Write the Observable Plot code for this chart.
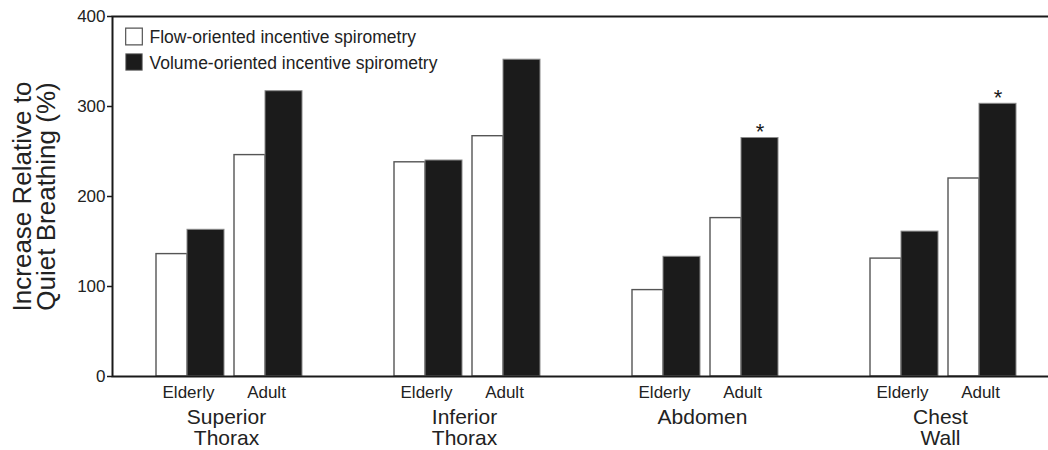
<!DOCTYPE html>
<html>
<head>
<meta charset="utf-8">
<script src="https://cdn.jsdelivr.net/npm/d3@7"></script>
<script src="https://cdn.jsdelivr.net/npm/@observablehq/plot@0.6"></script>
<style>
  html, body { margin: 0; padding: 0; background: white; overflow: hidden; }
  #chart svg { display: block; }
</style>
</head>
<body>
<div id="chart"></div>
<script>
const regions = ["Superior\nThorax", "Inferior\nThorax", "Abdomen", "Chest\nWall"];
const ages = ["Elderly", "Adult"];
const series = ["Flow-oriented incentive spirometry", "Volume-oriented incentive spirometry"];
const flowElderly = [136, 238, 96, 131];
const volumeElderly = [163, 240, 133, 161];
const flowAdult = [246, 267, 176, 220];
const volumeAdult = [317, 352, 265, 303];
const significantAdultVolume = [false, false, true, true];
const yTicks = [0, 100, 200, 300, 400];
const yTitle = "Increase Relative to\nQuiet Breathing (%)";

const rows = (vals) => regions.map((r, i) => ({region: r, value: vals[i], sig: significantAdultVolume[i]}));

const FONT = "'Liberation Sans', Arial, Helvetica, sans-serif";
const INK = "#1a1a1a";

const flowStyle = {fill: "white", stroke: "#555", strokeWidth: 1.4};
const volStyle = {fill: "#1b1b1b", stroke: "#8a8a8a", strokeWidth: 1};

const chart = Plot.plot({
  width: 1048,
  height: 450,
  marginLeft: 112,
  marginRight: -12,
  marginTop: 16,
  marginBottom: 74,
  style: {fontFamily: FONT, color: INK, background: "white"},
  x: {domain: regions, paddingInner: 92 / 238, paddingOuter: 44 / 238, axis: null},
  y: {domain: [0, 400], axis: null},
  marks: [
    Plot.barY(rows(flowElderly), {x: "region", y: "value", insetLeft: 0, insetRight: 115, ...flowStyle}),
    Plot.barY(rows(volumeElderly), {x: "region", y: "value", insetLeft: 31, insetRight: 78, ...volStyle}),
    Plot.barY(rows(flowAdult), {x: "region", y: "value", insetLeft: 78, insetRight: 37, ...flowStyle}),
    Plot.barY(rows(volumeAdult), {x: "region", y: "value", insetLeft: 109, insetRight: 0, ...volStyle}),
    Plot.text(rows(volumeAdult).filter(d => d.sig), {
      x: "region", y: "value", text: () => "*", dx: 54.5, dy: 1,
      lineAnchor: "bottom", fontSize: 22, fill: INK
    }),
    Plot.frame({stroke: INK, strokeWidth: 2}),
    Plot.axisY({ticks: yTicks, tickSize: 5, tickPadding: 2, fontSize: 17, label: null, stroke: INK, strokeWidth: 1.5, fill: "#222"}),
    Plot.text([yTitle], {
      frameAnchor: "left", text: d => d, rotate: -90, dx: -98, textAnchor: "middle",
      lineAnchor: "top", fontSize: 26, lineHeight: 0.92, fill: "#222"
    }),
    Plot.text(regions, {x: d => d, frameAnchor: "bottom", text: () => ages[0], dx: -41, dy: 9, lineAnchor: "top", fontSize: 17, fill: "#222"}),
    Plot.text(regions, {x: d => d, frameAnchor: "bottom", text: () => ages[1], dx: 37, dy: 9, lineAnchor: "top", fontSize: 17, fill: "#222"}),
    Plot.text(regions, {x: d => d, frameAnchor: "bottom", text: d => d, dx: -3, dy: 33, lineAnchor: "top", fontSize: 21, lineHeight: 1.0, fill: "#222"}),
    Plot.dot([series[0]], {frameAnchor: "top-left", dx: 21.5, dy: 20, symbol: "square", r: 9.4, fill: "white", stroke: "#555", strokeWidth: 1.2}),
    Plot.dot([series[1]], {frameAnchor: "top-left", dx: 21.5, dy: 45.5, symbol: "square", r: 9.4, fill: "#1b1b1b", stroke: "#8a8a8a", strokeWidth: 1}),
    Plot.text([series[0]], {frameAnchor: "top-left", text: d => d, dx: 37, dy: 26, textAnchor: "start", lineAnchor: "bottom", fontSize: 17.5, fill: "#222"}),
    Plot.text([series[1]], {frameAnchor: "top-left", text: d => d, dx: 37, dy: 52, textAnchor: "start", lineAnchor: "bottom", fontSize: 17.5, fill: "#222"})
  ]
});
document.getElementById("chart").appendChild(chart);
</script>
</body>
</html>
